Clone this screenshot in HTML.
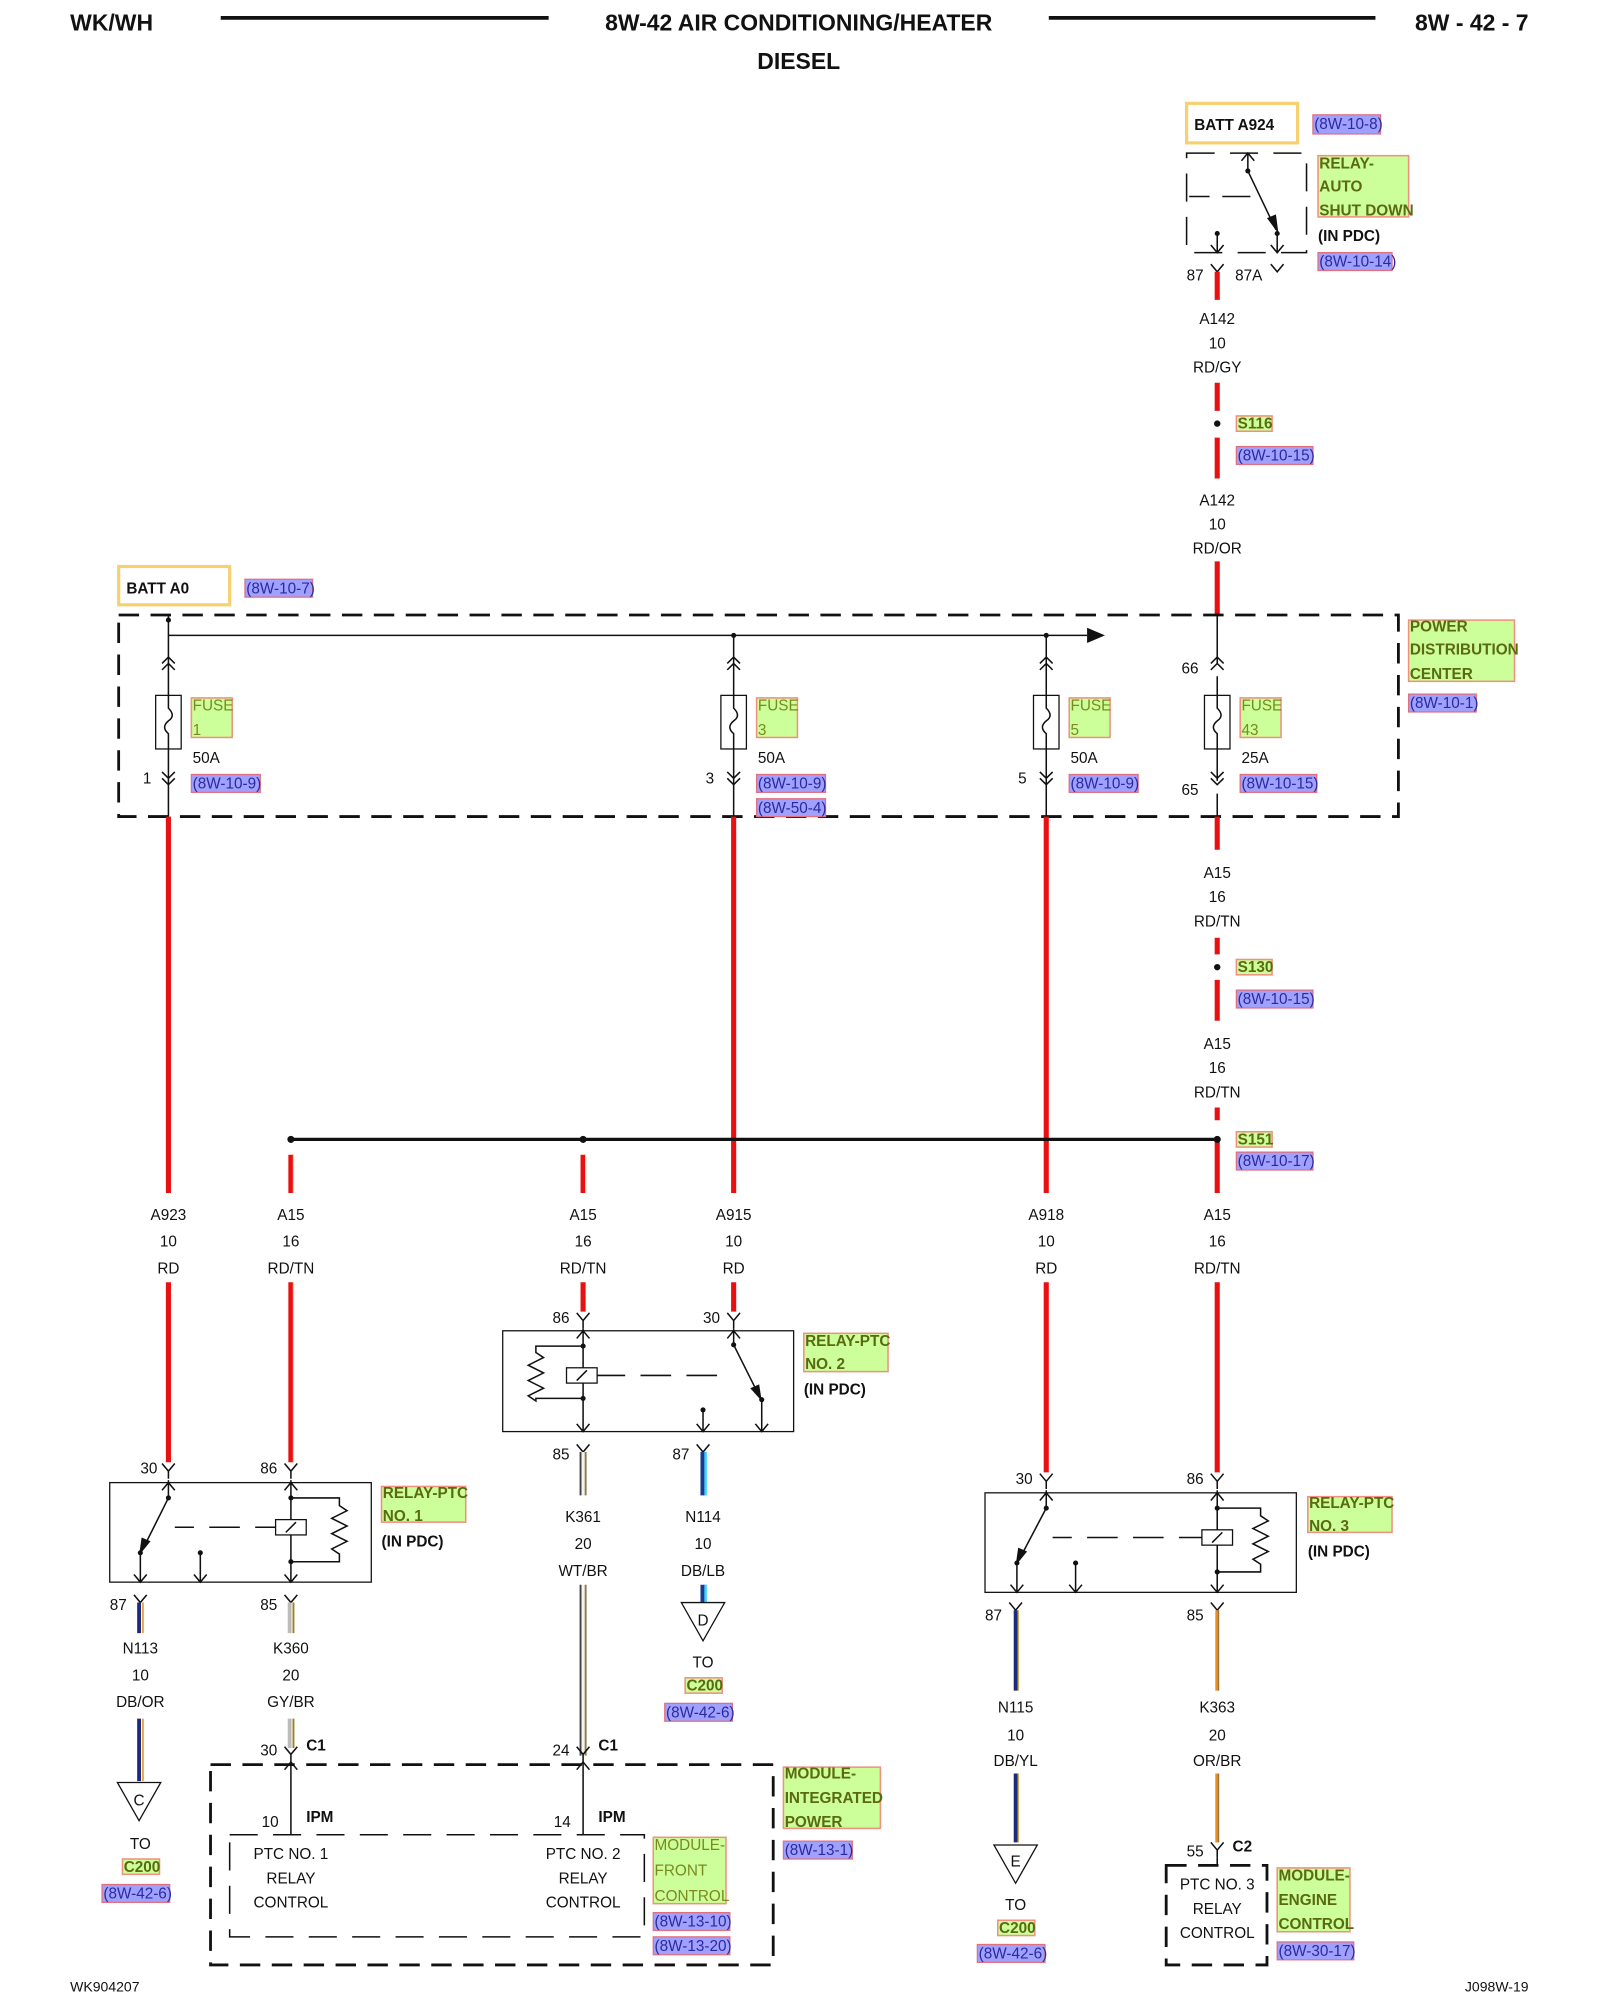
<!DOCTYPE html>
<html><head><meta charset="utf-8"><style>
html,body{margin:0;padding:0;background:#fff}
svg{display:block}
text{font-family:"Liberation Sans",sans-serif;font-size:12px;fill:#111}
.b{font-weight:bold}
.c{text-anchor:middle}
.g{fill:#5a6a10;font-weight:bold}
.gf{fill:#7a8a20}
.p{fill:#2a2aa0}
.gr{fill:#ccff99;stroke:#f09080;stroke-width:1.2}
.pr{fill:#a0a0ff;stroke:#e07080;stroke-width:1}
.k{stroke:#111;stroke-width:1.2;fill:none}
.r{stroke:#e81010;stroke-width:4;fill:none}
.d{stroke:#111;stroke-width:2.2;fill:none;stroke-dasharray:16 9}
.dl{stroke:#111;stroke-width:1.2;fill:none;stroke-dasharray:22 12}
</style></head><body>
<svg width="1600" height="2000" viewBox="0 0 1254 1567.5" preserveAspectRatio="none" xmlns="http://www.w3.org/2000/svg">
<defs>
<path id="fu" d="M-5,-6 L0,0 L5,-6 M0,0 V6" class="k"/>
<path id="mu" d="M-5,6 L0,0 L5,6" class="k"/>
<path id="md" d="M-5,-6 L0,0 L5,-6" class="k"/>
<g id="dbu"><path d="M-5,5 L0,0 L5,5 M-5,10 L0,5 L5,10" class="k"/></g>
<g id="dbd"><path d="M-5,-5 L0,0 L5,-5 M-5,-10 L0,-5 L5,-10" class="k"/></g>
</defs>
<!-- header -->
<text x="55" y="24" class="b" style="font-size:18px">WK/WH</text>
<line x1="173" y1="14" x2="430" y2="14" stroke="#111" stroke-width="3"/>
<text x="626" y="24" class="b c" style="font-size:18px">8W-42 AIR CONDITIONING/HEATER</text>
<text x="626" y="54" class="b c" style="font-size:18px">DIESEL</text>
<line x1="822" y1="14" x2="1078" y2="14" stroke="#111" stroke-width="3"/>
<text x="1198" y="24" class="b" style="font-size:18px;text-anchor:end">8W - 42 - 7</text>

<!-- BATT A924 / ASD relay -->
<rect x="930" y="81" width="87" height="31" fill="none" stroke="#f8d070" stroke-width="2.5"/>
<text x="936" y="102" class="b">BATT A924</text>
<rect x="1029" y="90" width="53" height="15" class="pr"/><text x="1030" y="101" class="p">(8W-10-8)</text>
<path d="M930,120 H1024 V198 H930 Z" class="dl"/>
<path d="M978,120 V134" class="k"/><path d="M973,126 L978,120 L983,126" class="k"/>
<circle cx="978" cy="134" r="2" fill="#111"/>
<path d="M978,134 L1000,180" class="k"/><path d="M1002,183 L993,171 L1000,168 Z" fill="#111"/>
<circle cx="1001" cy="183" r="2" fill="#111"/>
<path d="M1001,183 V198 M996,192 L1001,198 L1006,192" class="k"/>
<circle cx="954" cy="183" r="2" fill="#111"/>
<path d="M954,183 V198 M949,192 L954,198 L959,192" class="k"/>
<path d="M932,154 H948 M958,154 H980" class="k"/>
<rect x="1033" y="122" width="71" height="48" class="gr"/>
<text x="1034" y="132" class="g">RELAY-</text><text x="1034" y="150" class="g">AUTO</text><text x="1034" y="169" class="g">SHUT DOWN</text>
<text x="1033" y="189" class="b">(IN PDC)</text>
<rect x="1033" y="198" width="58" height="14" class="pr"/><text x="1034" y="209" class="p">(8W-10-14)</text>
<text x="930" y="220">87</text><use href="#md" x="954" y="213"/>
<text x="968" y="220">87A</text><use href="#md" x="1001" y="213"/>
<path d="M954,213 V235 M954,300 V322 M954,343 V375 M954,440 V482" class="r"/>
<path d="M954,482 V520 M954,530 V545 M954,587 V612 M954,622 V640" class="k"/>
<text x="954" y="254" class="c">A142</text><text x="954" y="273" class="c">10</text><text x="954" y="292" class="c">RD/GY</text>
<circle cx="954" cy="332" r="2.5" fill="#111"/>
<rect x="969" y="326" width="28" height="12" class="gr"/><text x="970" y="336" class="g">S116</text>
<rect x="969" y="350" width="60" height="14" class="pr"/><text x="970" y="361" class="p">(8W-10-15)</text>
<text x="954" y="396" class="c">A142</text><text x="954" y="415" class="c">10</text><text x="954" y="434" class="c">RD/OR</text>

<!-- BATT A0 -->
<rect x="93" y="444" width="87" height="30" fill="none" stroke="#f8d070" stroke-width="2.5"/>
<text x="99" y="465" class="b">BATT A0</text>
<rect x="192" y="454" width="53" height="14" class="pr"/><text x="193" y="465" class="p">(8W-10-7)</text>

<!-- PDC -->
<path d="M93,482 H1096 V640 H93 Z" class="d"/>
<path d="M132,498 H852" class="k"/><path d="M852,492 L866,498 L852,504 Z" fill="#111"/>
<circle cx="132" cy="486" r="2" fill="#111"/>
<path d="M132,482 V498" class="k"/>
<rect x="1104" y="486" width="83" height="48" class="gr"/>
<text x="1105" y="495" class="g">POWER</text><text x="1105" y="513" class="g">DISTRIBUTION</text><text x="1105" y="532" class="g">CENTER</text>
<rect x="1104" y="544" width="53" height="14" class="pr"/><text x="1105" y="555" class="p">(8W-10-1)</text>

<!-- fuses -->
<g>
<path d="M132,498 V545 M132,587 V640" class="k"/>
<use href="#dbu" x="132" y="515"/><use href="#dbd" x="132" y="615"/>
<rect x="122" y="545" width="20" height="42" fill="none" stroke="#111"/>
<path d="M132,545 V555 q6,6 0,10 q-6,5 0,10 V587" class="k"/>
<rect x="150" y="547" width="32" height="31" class="gr"/><text x="151" y="557" class="gf">FUSE</text><text x="151" y="576" class="gf">1</text>
<text x="151" y="598">50A</text>
<text x="112" y="614">1</text>
<rect x="150" y="607" width="54" height="14" class="pr"/><text x="151" y="618" class="p">(8W-10-9)</text>
</g>
<g>
<circle cx="575" cy="498" r="2" fill="#111"/>
<path d="M575,498 V545 M575,587 V640" class="k"/>
<use href="#dbu" x="575" y="515"/><use href="#dbd" x="575" y="615"/>
<rect x="565" y="545" width="20" height="42" fill="none" stroke="#111"/>
<path d="M575,545 V555 q6,6 0,10 q-6,5 0,10 V587" class="k"/>
<rect x="593" y="547" width="32" height="31" class="gr"/><text x="594" y="557" class="gf">FUSE</text><text x="594" y="576" class="gf">3</text>
<text x="594" y="598">50A</text>
<text x="553" y="614">3</text>
<rect x="593" y="607" width="54" height="14" class="pr"/><text x="594" y="618" class="p">(8W-10-9)</text>
<rect x="593" y="626" width="54" height="14" class="pr"/><text x="594" y="637" class="p">(8W-50-4)</text>
</g>
<g>
<circle cx="820" cy="498" r="2" fill="#111"/>
<path d="M820,498 V545 M820,587 V640" class="k"/>
<use href="#dbu" x="820" y="515"/><use href="#dbd" x="820" y="615"/>
<rect x="810" y="545" width="20" height="42" fill="none" stroke="#111"/>
<path d="M820,545 V555 q6,6 0,10 q-6,5 0,10 V587" class="k"/>
<rect x="838" y="547" width="32" height="31" class="gr"/><text x="839" y="557" class="gf">FUSE</text><text x="839" y="576" class="gf">5</text>
<text x="839" y="598">50A</text>
<text x="798" y="614">5</text>
<rect x="838" y="607" width="54" height="14" class="pr"/><text x="839" y="618" class="p">(8W-10-9)</text>
</g>
<g>
<use href="#dbu" x="954" y="515"/><use href="#dbd" x="954" y="615"/>
<rect x="944" y="545" width="20" height="42" fill="none" stroke="#111"/>
<path d="M954,545 V555 q6,6 0,10 q-6,5 0,10 V587" class="k"/>
<rect x="972" y="547" width="32" height="31" class="gr"/><text x="973" y="557" class="gf">FUSE</text><text x="973" y="576" class="gf">43</text>
<text x="973" y="598">25A</text>
<text x="926" y="528">66</text>
<text x="926" y="623">65</text>
<rect x="972" y="607" width="60" height="14" class="pr"/><text x="973" y="618" class="p">(8W-10-15)</text>
</g>

<!-- mid red wires -->
<path d="M132,640 V935 M575,640 V935 M820,640 V935" class="r"/>
<path d="M954,640 V666 M954,735 V748 M954,768 V800 M954,868 V878 M954,893 V935 M228,905 V935 M457,905 V935" class="r"/>
<path d="M230,905 V935 M459,905 V935" stroke="#f0d0a0" stroke-width="1"/>
<text x="954" y="688" class="c">A15</text><text x="954" y="707" class="c">16</text><text x="954" y="726" class="c">RD/TN</text>
<circle cx="954" cy="758" r="2.5" fill="#111"/>
<rect x="969" y="752" width="28" height="12" class="gr"/><text x="970" y="762" class="g">S130</text>
<rect x="969" y="776" width="60" height="14" class="pr"/><text x="970" y="787" class="p">(8W-10-15)</text>
<text x="954" y="822" class="c">A15</text><text x="954" y="841" class="c">16</text><text x="954" y="860" class="c">RD/TN</text>
<path d="M228,893 H954" stroke="#111" stroke-width="2.5"/>
<circle cx="228" cy="893" r="2.8" fill="#111"/><circle cx="457" cy="893" r="2.8" fill="#111"/><circle cx="954" cy="893" r="2.8" fill="#111"/>
<rect x="969" y="887" width="28" height="12" class="gr"/><text x="970" y="897" class="g">S151</text>
<rect x="969" y="903" width="60" height="14" class="pr"/><text x="970" y="914" class="p">(8W-10-17)</text>

<!-- wire labels row -->
<g class="c">
<text x="132" y="956" class="c">A923</text><text x="132" y="977" class="c">10</text><text x="132" y="998" class="c">RD</text>
<text x="228" y="956" class="c">A15</text><text x="228" y="977" class="c">16</text><text x="228" y="998" class="c">RD/TN</text>
<text x="457" y="956" class="c">A15</text><text x="457" y="977" class="c">16</text><text x="457" y="998" class="c">RD/TN</text>
<text x="575" y="956" class="c">A915</text><text x="575" y="977" class="c">10</text><text x="575" y="998" class="c">RD</text>
<text x="820" y="956" class="c">A918</text><text x="820" y="977" class="c">10</text><text x="820" y="998" class="c">RD</text>
<text x="954" y="956" class="c">A15</text><text x="954" y="977" class="c">16</text><text x="954" y="998" class="c">RD/TN</text>
</g>
<path d="M132,1005 V1146 M228,1005 V1146 M457,1005 V1028 M575,1005 V1028 M820,1005 V1154 M954,1005 V1154" class="r"/>
<path d="M230,1005 V1146" stroke="#f0d0a0" stroke-width="1"/>

<!-- Relay PTC 2 -->
<use href="#fu" x="457" y="1035"/><use href="#fu" x="575" y="1035"/>
<text x="433" y="1037">86</text><text x="551" y="1037">30</text>
<rect x="394" y="1043" width="228" height="79" fill="none" stroke="#111"/>
<path d="M457,1041 V1122 M452,1049 L457,1043 L462,1049 M452,1116 L457,1122 L462,1116" class="k"/>
<path d="M457,1055 H420 V1060 l6,4 -12,6 12,6 -12,6 12,6 -12,6 6,4 V1096 H457" class="k"/>
<circle cx="457" cy="1055" r="2" fill="#111"/><circle cx="457" cy="1096" r="2" fill="#111"/>
<rect x="444" y="1072" width="24" height="12" fill="#fff" stroke="#111"/><path d="M452,1082 L460,1074" class="k"/>
<path d="M468,1078 H490 M502,1078 H526 M538,1078 H562" class="k"/>
<path d="M575,1041 V1054 M570,1049 L575,1043 L580,1049" class="k"/><circle cx="575" cy="1054" r="2" fill="#111"/>
<path d="M575,1054 L594,1092" class="k"/><path d="M597,1098 L588,1088 L595,1085 Z" fill="#111"/>
<circle cx="597" cy="1097" r="2" fill="#111"/><path d="M597,1097 V1122 M592,1116 L597,1122 L602,1116" class="k"/>
<circle cx="551" cy="1105" r="2" fill="#111"/><path d="M551,1105 V1122 M546,1116 L551,1122 L556,1116" class="k"/>
<rect x="630" y="1045" width="66" height="30" class="gr"/><text x="631" y="1055" class="g">RELAY-PTC</text><text x="631" y="1073" class="g">NO. 2</text>
<text x="630" y="1093" class="b">(IN PDC)</text>
<text x="433" y="1144">85</text><text x="527" y="1144">87</text>
<use href="#md" x="457" y="1138"/><use href="#md" x="551" y="1138"/>
<path d="M457,1138 V1172 M457,1242 V1376" stroke="#f4f4ee" stroke-width="5"/>
<path d="M455,1138 V1172 M455,1242 V1376" stroke="#444" stroke-width="1.5"/>
<path d="M459,1138 V1172 M459,1242 V1376" stroke="#8a7a50" stroke-width="1.5"/>
<path d="M551,1138 V1172 M551,1242 V1256" stroke="#1a3a90" stroke-width="4"/>
<path d="M553,1138 V1172 M553,1242 V1256" stroke="#40d0ff" stroke-width="2"/>
<text x="457" y="1193" class="c">K361</text><text x="457" y="1214" class="c">20</text><text x="457" y="1235" class="c">WT/BR</text>
<text x="551" y="1193" class="c">N114</text><text x="551" y="1214" class="c">10</text><text x="551" y="1235" class="c">DB/LB</text>
<path d="M534,1256 H568 L551,1286 Z" fill="#fff" stroke="#111"/><text x="551" y="1274" class="c">D</text>
<text x="551" y="1307" class="c">TO</text>
<rect x="537" y="1315" width="29" height="12" class="gr"/><text x="538" y="1325" class="g">C200</text>
<rect x="521" y="1335" width="53" height="14" class="pr"/><text x="522" y="1346" class="p">(8W-42-6)</text>

<!-- Relay PTC 1 -->
<use href="#fu" x="132" y="1153"/><use href="#fu" x="228" y="1153"/>
<text x="110" y="1155">30</text><text x="204" y="1155">86</text>
<rect x="86" y="1162" width="205" height="78" fill="none" stroke="#111"/>
<path d="M132,1160 V1174 M127,1168 L132,1162 L137,1168" class="k"/><circle cx="132" cy="1174" r="2" fill="#111"/>
<path d="M132,1174 L113,1212" class="k"/><path d="M109,1219 L111,1205 L118,1208 Z" fill="#111"/>
<circle cx="110" cy="1217" r="2" fill="#111"/><path d="M110,1217 V1240 M105,1234 L110,1240 L115,1234" class="k"/>
<circle cx="157" cy="1217" r="2" fill="#111"/><path d="M157,1217 V1240 M152,1234 L157,1240 L162,1234" class="k"/>
<path d="M137,1197 H152 M164,1197 H188 M200,1197 H216" class="k"/>
<path d="M228,1160 V1240 M223,1168 L228,1162 L233,1168 M223,1234 L228,1240 L233,1234" class="k"/>
<path d="M228,1174 H266 V1180 l6,4 -12,6 12,6 -12,6 12,6 -12,6 6,4 V1224 H228" class="k"/>
<circle cx="228" cy="1174" r="2" fill="#111"/><circle cx="228" cy="1224" r="2" fill="#111"/>
<rect x="216" y="1191" width="24" height="12" fill="#fff" stroke="#111"/><path d="M224,1201 L232,1193" class="k"/>
<rect x="299" y="1165" width="66" height="28" class="gr"/><text x="300" y="1174" class="g">RELAY-PTC</text><text x="300" y="1192" class="g">NO. 1</text>
<text x="299" y="1212" class="b">(IN PDC)</text>
<text x="86" y="1262">87</text><text x="204" y="1262">85</text>
<use href="#md" x="110" y="1256"/><use href="#md" x="228" y="1256"/>
<path d="M109,1256 V1280 M109,1347 V1396" stroke="#1a2a80" stroke-width="3"/>
<path d="M112,1256 V1280 M112,1347 V1396" stroke="#f0a040" stroke-width="1.5"/>
<path d="M227,1256 V1280 M227,1347 V1370" stroke="#bbbbbb" stroke-width="3"/>
<path d="M230,1256 V1280 M230,1347 V1370" stroke="#a08020" stroke-width="1.5"/>
<text x="110" y="1296" class="c">N113</text><text x="110" y="1317" class="c">10</text><text x="110" y="1338" class="c">DB/OR</text>
<text x="228" y="1296" class="c">K360</text><text x="228" y="1317" class="c">20</text><text x="228" y="1338" class="c">GY/BR</text>
<path d="M92,1397 H126 L109,1427 Z" fill="#fff" stroke="#111"/><text x="109" y="1415" class="c">C</text>
<text x="110" y="1449" class="c">TO</text>
<rect x="96" y="1457" width="29" height="12" class="gr"/><text x="97" y="1467" class="g">C200</text>
<rect x="80" y="1477" width="53" height="14" class="pr"/><text x="81" y="1488" class="p">(8W-42-6)</text>

<!-- Relay PTC 3 -->
<use href="#fu" x="820" y="1161"/><use href="#fu" x="954" y="1161"/>
<text x="796" y="1163">30</text><text x="930" y="1163">86</text>
<rect x="772" y="1170" width="244" height="78" fill="none" stroke="#111"/>
<path d="M820,1168 V1182 M815,1176 L820,1170 L825,1176" class="k"/><circle cx="820" cy="1182" r="2" fill="#111"/>
<path d="M820,1182 L800,1220" class="k"/><path d="M796,1227 L798,1213 L805,1216 Z" fill="#111"/>
<circle cx="797" cy="1225" r="2" fill="#111"/><path d="M797,1225 V1248 M792,1242 L797,1248 L802,1242" class="k"/>
<circle cx="843" cy="1225" r="2" fill="#111"/><path d="M843,1225 V1248 M838,1242 L843,1248 L848,1242" class="k"/>
<path d="M825,1205 H840 M852,1205 H876 M888,1205 H912 M924,1205 H942" class="k"/>
<path d="M954,1168 V1248 M949,1176 L954,1170 L959,1176 M949,1242 L954,1248 L959,1242" class="k"/>
<path d="M954,1182 H988 V1188 l6,4 -12,6 12,6 -12,6 12,6 -12,6 6,4 V1232 H954" class="k"/>
<circle cx="954" cy="1182" r="2" fill="#111"/><circle cx="954" cy="1232" r="2" fill="#111"/>
<rect x="942" y="1199" width="24" height="12" fill="#fff" stroke="#111"/><path d="M950,1209 L958,1201" class="k"/>
<rect x="1025" y="1173" width="66" height="28" class="gr"/><text x="1026" y="1182" class="g">RELAY-PTC</text><text x="1026" y="1200" class="g">NO. 3</text>
<text x="1025" y="1220" class="b">(IN PDC)</text>
<text x="772" y="1270">87</text><text x="930" y="1270">85</text>
<use href="#md" x="796" y="1262"/><use href="#md" x="954" y="1262"/>
<path d="M796,1262 V1325 M796,1390 V1444" stroke="#1a2a80" stroke-width="3"/>
<path d="M798,1262 V1325 M798,1390 V1444" stroke="#c0a020" stroke-width="1"/>
<path d="M954,1262 V1325 M954,1390 V1444" stroke="#e8901a" stroke-width="3"/>
<path d="M955,1262 V1325 M955,1390 V1444" stroke="#a07040" stroke-width="1"/>
<text x="796" y="1342" class="c">N115</text><text x="796" y="1364" class="c">10</text><text x="796" y="1384" class="c">DB/YL</text>
<text x="954" y="1342" class="c">K363</text><text x="954" y="1364" class="c">20</text><text x="954" y="1384" class="c">OR/BR</text>
<path d="M779,1446 H813 L796,1476 Z" fill="#fff" stroke="#111"/><text x="796" y="1463" class="c">E</text>
<text x="796" y="1497" class="c">TO</text>
<rect x="782" y="1505" width="29" height="12" class="gr"/><text x="783" y="1515" class="g">C200</text>
<rect x="766" y="1524" width="53" height="14" class="pr"/><text x="767" y="1535" class="p">(8W-42-6)</text>

<!-- Module integrated power -->
<path d="M165,1383 H606 V1540 H165 Z" class="d"/>
<text x="204" y="1376">30</text><use href="#fu" x="228" y="1375"/><text x="240" y="1372" class="b">C1</text>
<text x="433" y="1376">24</text><use href="#fu" x="457" y="1375"/><text x="469" y="1372" class="b">C1</text>
<path d="M228,1381 V1438 M457,1381 V1438" class="k"/>
<use href="#mu" x="228" y="1381"/><use href="#mu" x="457" y="1381"/>
<text x="205" y="1432">10</text><text x="240" y="1428" class="b">IPM</text>
<text x="434" y="1432">14</text><text x="469" y="1428" class="b">IPM</text>
<path d="M180,1438 H505 V1518 H180 Z" class="dl"/>
<text x="228" y="1457" class="c">PTC NO. 1</text><text x="228" y="1476" class="c">RELAY</text><text x="228" y="1495" class="c">CONTROL</text>
<text x="457" y="1457" class="c">PTC NO. 2</text><text x="457" y="1476" class="c">RELAY</text><text x="457" y="1495" class="c">CONTROL</text>
<rect x="512" y="1440" width="57" height="52" class="gr"/><text x="513" y="1450" class="gf">MODULE-</text><text x="513" y="1470" class="gf">FRONT</text><text x="513" y="1490" class="gf">CONTROL</text>
<rect x="512" y="1499" width="60" height="14" class="pr"/><text x="513" y="1510" class="p">(8W-13-10)</text>
<rect x="512" y="1518" width="60" height="14" class="pr"/><text x="513" y="1529" class="p">(8W-13-20)</text>
<rect x="614" y="1385" width="76" height="48" class="gr"/><text x="615" y="1394" class="g">MODULE-</text><text x="615" y="1413" class="g">INTEGRATED</text><text x="615" y="1432" class="g">POWER</text>
<rect x="614" y="1443" width="54" height="14" class="pr"/><text x="615" y="1454" class="p">(8W-13-1)</text>

<!-- PTC no 3 / ECM -->
<text x="930" y="1455">55</text><use href="#fu" x="954" y="1450"/><text x="966" y="1451" class="b">C2</text>
<path d="M954,1456 V1462" class="k"/>
<path d="M914,1462 H993 V1540 H914 Z" class="d"/>
<text x="954" y="1481" class="c">PTC NO. 3</text><text x="954" y="1500" class="c">RELAY</text><text x="954" y="1519" class="c">CONTROL</text>
<rect x="1001" y="1464" width="57" height="50" class="gr"/><text x="1002" y="1474" class="g">MODULE-</text><text x="1002" y="1493" class="g">ENGINE</text><text x="1002" y="1512" class="g">CONTROL</text>
<rect x="1001" y="1522" width="60" height="14" class="pr"/><text x="1002" y="1533" class="p">(8W-30-17)</text>

<text x="55" y="1561" style="font-size:11px">WK904207</text>
<text x="1198" y="1561" style="font-size:11px;text-anchor:end">J098W-19</text>
</svg>
</body></html>
